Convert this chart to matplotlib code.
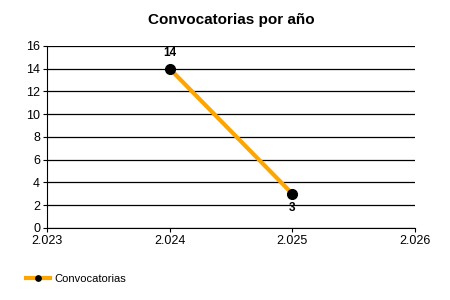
import matplotlib
matplotlib.use("Agg")
import matplotlib.pyplot as plt
from matplotlib.ticker import FuncFormatter

plt.rcParams['font.family'] = ['Liberation Sans', 'DejaVu Sans']

years = [2024, 2025]
convocatorias = [14, 3]
series_name = "Convocatorias"
title = "Convocatorias por año"

fig = plt.figure(figsize=(4.5, 3), dpi=100)
ax = fig.add_axes([0.1044, 0.24, 0.818, 0.607])

ax.plot(years, convocatorias, color="#FFA500", lw=3, marker="o",
        markersize=7, markerfacecolor="black", markeredgecolor="black",
        label=series_name, zorder=3)

for x, y in zip(years, convocatorias):
    if y == max(convocatorias):
        ax.annotate(str(y), (x, y), xytext=(0, 7), textcoords="offset points",
                    ha="center", va="bottom", fontsize=8.5, fontweight="bold")
    else:
        ax.annotate(str(y), (x, y), xytext=(0, -6), textcoords="offset points",
                    ha="center", va="top", fontsize=8.5, fontweight="bold")

ax.set_xlim(2023, 2026)
ax.set_ylim(0, 16)
ax.set_xticks([2023, 2024, 2025, 2026])
ax.set_yticks(range(0, 17, 2))
ax.xaxis.set_major_formatter(FuncFormatter(lambda v, p: f"{int(v):,}".replace(",", ".")))
ax.yaxis.grid(True, color="black", lw=0.9)
ax.set_axisbelow(True)
for s in ["top", "right"]:
    ax.spines[s].set_visible(False)
ax.tick_params(labelsize=9, length=3, pad=2)

ax.set_title(title, fontsize=11, fontweight="bold", pad=16)

fig.legend(loc="lower left", bbox_to_anchor=(0.035, 0.02), frameon=False,
           fontsize=8, handlelength=2.2, handletextpad=0.4, markerscale=0.55)

fig.savefig("out.png")
